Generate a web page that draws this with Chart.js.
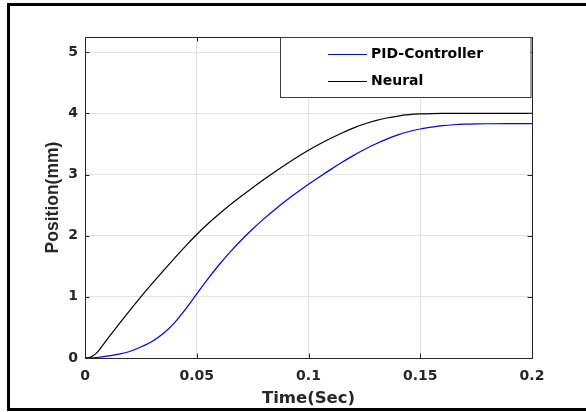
<!DOCTYPE html>
<html>
<head>
<meta charset="utf-8">
<script src="https://cdn.jsdelivr.net/npm/chart.js@4.4.0/dist/chart.umd.min.js"></script>
<style>
  html, body { margin: 0; padding: 0; background: #fff; overflow: hidden; }
  canvas { display: block; }
</style>
</head>
<body>
<canvas id="chart" width="586" height="412"></canvas>
<script>
// values
const timeSec = [0, 0.0025, 0.005, 0.0075, 0.01, 0.015, 0.02, 0.025, 0.03, 0.035, 0.04, 0.045,
  0.05, 0.055, 0.06, 0.065, 0.07, 0.075, 0.08, 0.085, 0.09, 0.095, 0.1, 0.105, 0.11, 0.115,
  0.12, 0.125, 0.13, 0.135, 0.14, 0.145, 0.15, 0.155, 0.16, 0.165, 0.17, 0.175, 0.18, 0.19, 0.2];
const pidPosition = [0, 0.002, 0.008, 0.018, 0.03, 0.062, 0.107, 0.18, 0.27, 0.40, 0.575, 0.80,
  1.05, 1.295, 1.525, 1.735, 1.93, 2.11, 2.275, 2.43, 2.575, 2.71, 2.84, 2.965, 3.085, 3.20,
  3.31, 3.41, 3.50, 3.58, 3.65, 3.705, 3.745, 3.775, 3.80, 3.815, 3.824, 3.829, 3.831, 3.832, 3.832];
const neuralPosition = [0, 0.015, 0.075, 0.185, 0.31, 0.545, 0.775, 1.0, 1.215, 1.425, 1.63, 1.83,
  2.02, 2.195, 2.355, 2.505, 2.648, 2.785, 2.919, 3.047, 3.17, 3.287, 3.397, 3.499, 3.594, 3.681,
  3.759, 3.827, 3.882, 3.925, 3.957, 3.979, 3.992, 3.998, 4.0, 4.0, 4.0, 4.0, 4.0, 4.0, 4.0];
const seriesNames = ['PID-Controller', 'Neural'];
const seriesColors = ['#0000ff', '#000000'];

const toPoints = ys => timeSec.map((t, i) => ({ x: t, y: ys[i] }));

const tickFont = { family: 'DejaVu Sans', weight: 'bold', size: 14 };

// thick black frame round the figure (left, top, bottom only)
const framePlugin = {
  id: 'framePlugin',
  beforeDraw(chart) {
    const { ctx, width, height } = chart;
    ctx.save();
    ctx.fillStyle = '#fff';
    ctx.fillRect(0, 0, width, height);
    ctx.fillStyle = '#000';
    ctx.fillRect(7, 3, width - 7, 3);
    ctx.fillRect(7, 3, 3, 408);
    ctx.fillRect(7, 408, width - 7, 3);
    ctx.restore();
  }
};

// MATLAB style box, inward ticks and boxed legend
const boxPlugin = {
  id: 'boxPlugin',
  afterDatasetsDraw(chart) {
    const { ctx, chartArea: a, scales } = chart;
    ctx.save();
    ctx.strokeStyle = '#262626';
    ctx.lineWidth = 1;
    ctx.strokeRect(a.left + 0.5, a.top + 0.5, a.right - a.left, a.bottom - a.top);
    const tl = 4.5;
    ctx.beginPath();
    scales.x.ticks.forEach(t => {
      const px = Math.round(scales.x.getPixelForValue(t.value)) + 0.5;
      ctx.moveTo(px, a.bottom); ctx.lineTo(px, a.bottom - tl);
      ctx.moveTo(px, a.top); ctx.lineTo(px, a.top + tl);
    });
    scales.y.ticks.forEach(t => {
      const py = Math.round(scales.y.getPixelForValue(t.value)) + 0.5;
      ctx.moveTo(a.left, py); ctx.lineTo(a.left + tl, py);
      ctx.moveTo(a.right, py); ctx.lineTo(a.right - tl, py);
    });
    ctx.stroke();

    // legend
    const bx = 280.5, by = a.top + 0.5, bw = a.right - 1 - bx, bh = 60;
    ctx.fillStyle = '#fff';
    ctx.fillRect(bx, by, bw, bh);
    ctx.strokeStyle = '#3a3a3a';
    ctx.strokeRect(bx, by, bw, bh);
    ctx.font = 'bold 14px "DejaVu Sans"';
    ctx.textBaseline = 'middle';
    chart.data.datasets.forEach((ds, i) => {
      const y = by + 17 + i * 27;
      ctx.strokeStyle = ds.borderColor;
      ctx.lineWidth = 1.2;
      ctx.beginPath();
      ctx.moveTo(328, y); ctx.lineTo(367, y);
      ctx.stroke();
      ctx.fillStyle = '#000';
      ctx.fillText(ds.label, 371, y);
    });
    ctx.restore();
  }
};

new Chart(document.getElementById('chart'), {
  type: 'line',
  data: {
    datasets: [
      { label: seriesNames[0], data: toPoints(pidPosition), borderColor: seriesColors[0] },
      { label: seriesNames[1], data: toPoints(neuralPosition), borderColor: seriesColors[1] }
    ]
  },
  options: {
    responsive: false,
    animation: false,
    layout: { padding: { left: 0, right: 54, top: 37, bottom: 0 } },
    elements: {
      point: { radius: 0 },
      line: { borderWidth: 1.2, cubicInterpolationMode: 'monotone', fill: false }
    },
    plugins: { legend: { display: false }, tooltip: { enabled: false } },
    scales: {
      x: {
        type: 'linear',
        min: 0, max: 0.2,
        afterFit: s => { s.height = 54; },
        grid: { color: '#e3e3e3', drawTicks: false },
        border: { display: false },
        ticks: {
          stepSize: 0.05, includeBounds: false, padding: 10, color: '#262626', font: tickFont,
          maxRotation: 0,
          callback: v => String(parseFloat(v.toFixed(2)))
        },
        title: {
          display: true, text: 'Time(Sec)', color: '#262626',
          font: { family: 'DejaVu Sans', weight: 'bold', size: 16.5 },
          padding: { top: 0, bottom: 3 }
        }
      },
      y: {
        min: 0, max: 5.25,
        afterFit: s => { s.width = 85; },
        grid: { color: '#e3e3e3', drawTicks: false },
        border: { display: false },
        ticks: { stepSize: 1, includeBounds: false, padding: 7, color: '#262626', font: tickFont },
        title: {
          display: true, text: 'Position(mm)', color: '#262626',
          font: { family: 'Liberation Sans', weight: 'bold', size: 17.5 },
          padding: { top: 43, bottom: 0 }
        }
      }
    }
  },
  plugins: [framePlugin, boxPlugin]
});
</script>
</body>
</html>
